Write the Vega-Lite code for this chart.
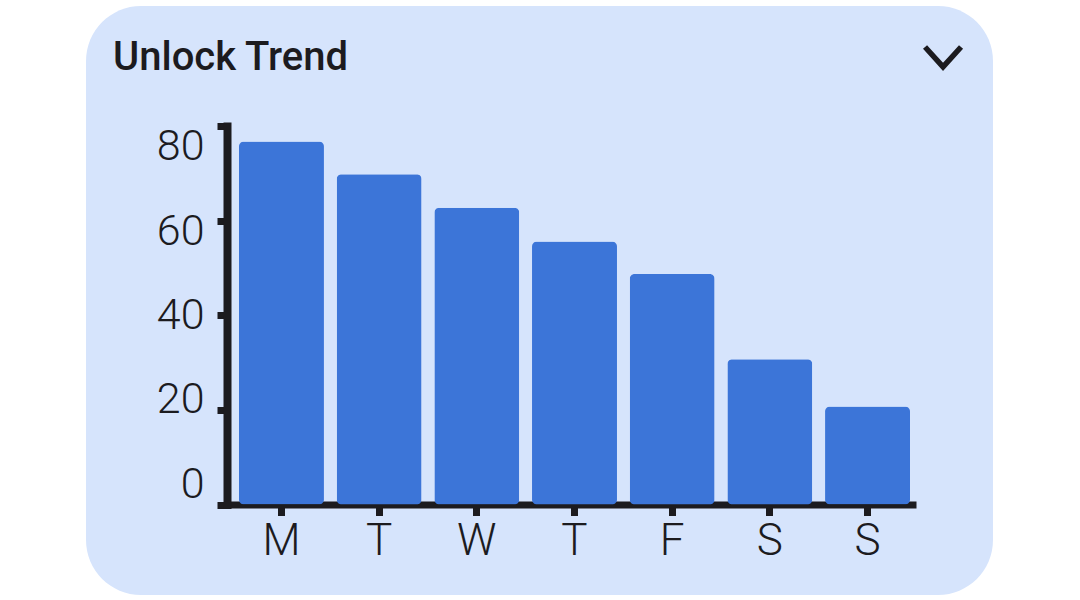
{
  "$schema": "https://vega.github.io/schema/vega-lite/v6.json",
  "width": 907,
  "height": 589,
  "autosize": {"type": "none"},
  "padding": {"left": 86, "top": 6, "right": 87, "bottom": 5},
  "background": "#ffffff",
  "config": {
    "view": {"fill": "#d6e4fc", "stroke": null, "cornerRadius": 55}
  },
  "title": {
    "text": "Unlock Trend",
    "anchor": "start",
    "frame": "group",
    "font": "Roboto",
    "fontSize": 40,
    "fontWeight": 500,
    "color": "#1c1b1f",
    "dx": 27,
    "offset": -104,
    "baseline": "alphabetic"
  },
  "data": {
    "values": [
      {"day": "Mon", "unlocks": 76.7},
      {"day": "Tue", "unlocks": 69.8},
      {"day": "Wed", "unlocks": 62.7},
      {"day": "Thu", "unlocks": 55.6},
      {"day": "Fri", "unlocks": 48.7},
      {"day": "Sat", "unlocks": 30.7},
      {"day": "Sun", "unlocks": 20.7}
    ]
  },
  "layer": [
    {
      "mark": {"type": "bar", "color": "#3c75d8", "cornerRadius": 5},
      "encoding": {
        "x": {
          "field": "day",
          "type": "nominal",
          "sort": null,
          "scale": {"range": [141, 830], "paddingInner": 0.13, "paddingOuter": 0.092, "align": 0.667},
          "axis": {
            "title": null,
            "offset": -90.5,
            "domainColor": "#1c1b1f",
            "domainWidth": 7,
            "tickColor": "#1c1b1f",
            "tickWidth": 7,
            "tickSize": 11,
            "labelFont": "Roboto",
            "labelFontSize": 44,
            "labelFontWeight": 300,
            "labelColor": "#1c1b1f",
            "labelAngle": 0,
            "labelPadding": 4,
            "labelExpr": "substring(datum.label, 0, 1)"
          }
        },
        "y": {
          "field": "unlocks",
          "type": "quantitative",
          "scale": {"domain": [0, 80], "range": [498.5, 120], "nice": false},
          "axis": {
            "title": null,
            "grid": false,
            "values": [0, 20, 40, 60, 80],
            "offset": -141,
            "domainColor": "#1c1b1f",
            "domainWidth": 8,
            "domainCap": "square",
            "tickColor": "#1c1b1f",
            "tickWidth": 7,
            "tickSize": 10,
            "labelFont": "Roboto",
            "labelFontSize": 43,
            "labelFontWeight": 300,
            "labelColor": "#1c1b1f",
            "labelPadding": 13,
            "labelOverlap": false,
            "encoding": {"labels": {"dy": {"value": {"expr": "-20.4 + 0.516 * datum.value"}}}}
          }
        }
      }
    },
    {
      "data": {"values": [{"icon": "collapse"}]},
      "mark": {
        "type": "point",
        "shape": "M-1,-0.55L0,0.55L1,-0.55",
        "filled": false,
        "stroke": "#1c1b1f",
        "strokeWidth": 5.5,
        "size": 1296,
        "opacity": 1
      },
      "encoding": {
        "x": {"datum": "Sun"},
        "xOffset": {"value": 118},
        "y": {"datum": 94.6}
      }
    }
  ]
}
